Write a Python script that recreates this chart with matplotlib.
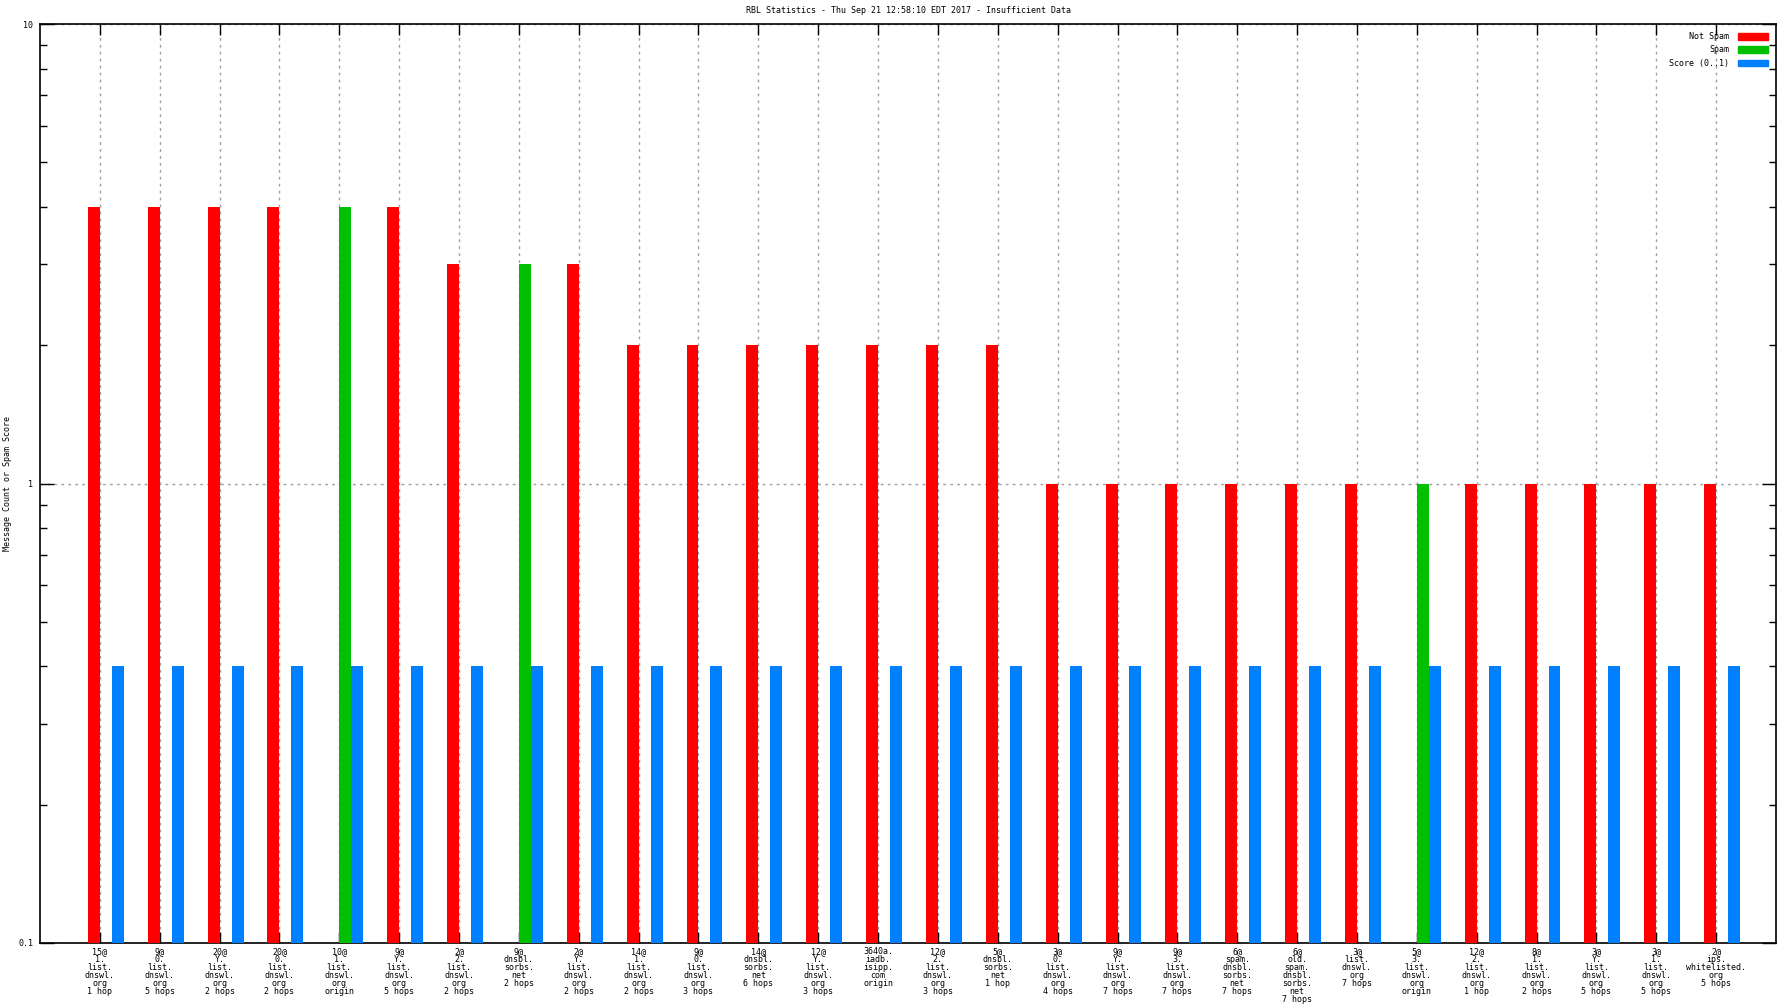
import numpy as np
import matplotlib
matplotlib.use('Agg')
import matplotlib.pyplot as plt
from matplotlib.patches import Patch
from matplotlib.ticker import LogLocator, NullFormatter, FixedLocator, FixedFormatter

# RBL lookups (tick labels, one line per row)
labels = [
    "15@\n1.\nlist.\ndnswl.\norg\n1 hop",
    "9@\n0.\nlist.\ndnswl.\norg\n5 hops",
    "20@\nY.\nlist.\ndnswl.\norg\n2 hops",
    "20@\n0.\nlist.\ndnswl.\norg\n2 hops",
    "10@\n1.\nlist.\ndnswl.\norg\norigin",
    "9@\nY.\nlist.\ndnswl.\norg\n5 hops",
    "2@\n2.\nlist.\ndnswl.\norg\n2 hops",
    "9@\ndnsbl.\nsorbs.\nnet\n2 hops",
    "2@\nY.\nlist.\ndnswl.\norg\n2 hops",
    "14@\n1.\nlist.\ndnswl.\norg\n2 hops",
    "9@\n0.\nlist.\ndnswl.\norg\n3 hops",
    "14@\ndnsbl.\nsorbs.\nnet\n6 hops",
    "12@\nY.\nlist.\ndnswl.\norg\n3 hops",
    "3640a.\niadb.\nisipp.\ncom\norigin",
    "12@\n2.\nlist.\ndnswl.\norg\n3 hops",
    "5@\ndnsbl.\nsorbs.\nnet\n1 hop",
    "3@\n0.\nlist.\ndnswl.\norg\n4 hops",
    "9@\nY.\nlist.\ndnswl.\norg\n7 hops",
    "9@\n3.\nlist.\ndnswl.\norg\n7 hops",
    "6@\nspam.\ndnsbl.\nsorbs.\nnet\n7 hops",
    "6@\nold.\nspam.\ndnsbl.\nsorbs.\nnet\n7 hops",
    "3@\nlist.\ndnswl.\norg\n7 hops",
    "5@\n3.\nlist.\ndnswl.\norg\norigin",
    "12@\n2.\nlist.\ndnswl.\norg\n1 hop",
    "8@\n1.\nlist.\ndnswl.\norg\n2 hops",
    "3@\nY.\nlist.\ndnswl.\norg\n5 hops",
    "3@\n1.\nlist.\ndnswl.\norg\n5 hops",
    "2@\nips.\nwhitelisted.\norg\n5 hops",
]
not_spam = [4, 4, 4, 4, 0, 4, 3, 0, 3, 2, 2, 2, 2, 2, 2, 2, 1, 1, 1, 1, 1, 1, 0, 1, 1, 1, 1, 1]
spam     = [0, 0, 0, 0, 4, 0, 0, 3, 0, 0, 0, 0, 0, 0, 0, 0, 0, 0, 0, 0, 0, 0, 1, 0, 0, 0, 0, 0]
score    = [0.4] * 28

title = "RBL Statistics - Thu Sep 21 12:58:10 EDT 2017 - Insufficient Data"

plt.rcParams['font.family'] = 'DejaVu Sans Mono'
plt.rcParams['font.size'] = 6.0

fig = plt.figure(figsize=(17.92, 10.08), dpi=100)
ax = fig.add_axes([40 / 1792, 1 - 943 / 1008, 1736 / 1792, 919 / 1008])

x = np.arange(1, len(labels) + 1)
w = 0.2
base = 0.1
ns = np.array(not_spam, dtype=float)
sp = np.array(spam, dtype=float)
sc = np.array(score, dtype=float)

m = ns > 0
ax.bar(x[m] - w / 2, ns[m] - base, w, bottom=base, color='#ff0000', zorder=3)
m = sp > 0
ax.bar(x[m] + w / 2, sp[m] - base, w, bottom=base, color='#00c000', zorder=3)
ax.bar(x + 1.5 * w, sc - base, w, bottom=base, color='#0080ff', zorder=3)

ax.set_yscale('log')
ax.set_ylim(0.1, 10)
ax.set_xlim(0, len(labels) + 1)

ax.yaxis.set_major_locator(FixedLocator([0.1, 1, 10]))
ax.yaxis.set_major_formatter(FixedFormatter(['0.1', '1', '10']))
ax.yaxis.set_minor_locator(LogLocator(base=10, subs=np.arange(2, 10)))
ax.yaxis.set_minor_formatter(NullFormatter())
ax.tick_params(axis='y', which='major', direction='in', length=10, width=1,
               left=True, right=True, pad=5)
ax.tick_params(axis='y', which='minor', direction='in', length=5, width=1,
               left=True, right=True)

ax.set_xticks(x)
ax.set_xticklabels(labels, linespacing=0.86, va='top')
ax.tick_params(axis='x', which='major', direction='in', length=8, width=1,
               top=True, bottom=True, pad=3)

ax.grid(True, which='major', axis='both', color='#a0a0a0', linestyle=(0, (2, 3)),
        linewidth=1, zorder=1)
for s in ax.spines.values():
    s.set_linewidth(1.2)

ax.set_ylabel('Message Count or Spam Score')
ax.yaxis.set_label_coords(-0.016, 0.5)
ax.set_title(title, fontsize=6.0, pad=8)

handles = [Patch(color='#ff0000', label='Not Spam'),
           Patch(color='#00c000', label='Spam'),
           Patch(color='#0080ff', label='Score (0..1)')]
leg = ax.legend(handles=handles, loc='upper right', markerfirst=False, frameon=False,
                handlelength=3.6, handleheight=0.8, handletextpad=1.0,
                labelspacing=0.5, borderaxespad=0.6)
for t in leg.get_texts():
    t.set_ha('right')
leg._legend_box.align = 'right'

fig.savefig('out.png', dpi=100, facecolor='white')
